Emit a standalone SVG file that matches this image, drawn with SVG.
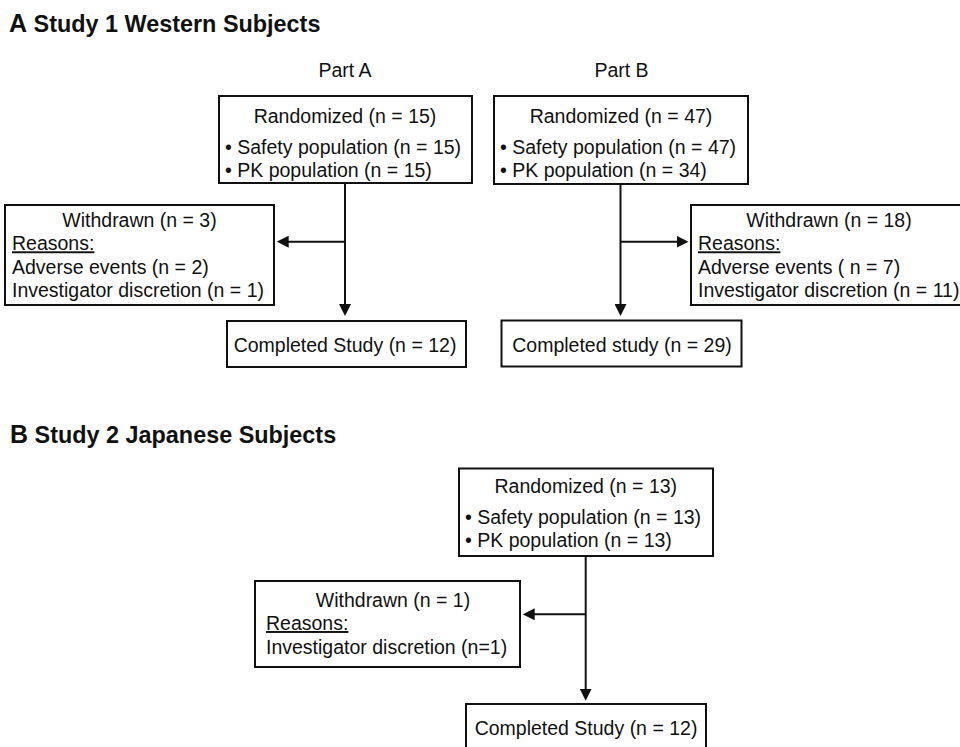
<svg xmlns="http://www.w3.org/2000/svg" width="960" height="747" viewBox="0 0 960 747">
<style>
text{font-family:"Liberation Sans",Arial,Helvetica,sans-serif;fill:#111;font-size:19.5px}
.title{font-weight:bold;font-size:23.4px}
.big{font-size:25px}
.c{text-anchor:middle}
.box{fill:#fff;stroke:#111;stroke-width:2}
.ln{fill:none;stroke:#111;stroke-width:2}
.u{text-decoration:underline}
</style>
<defs>
<marker id="arr" markerUnits="userSpaceOnUse" markerWidth="12" markerHeight="12" refX="6" refY="6" orient="auto">
<path d="M0,0 L12,6 L0,12 z" fill="#111"/>
</marker>
</defs>
<rect width="960" height="747" fill="#fff"/>
<text class="title" x="9" y="31.7"><tspan class="big">A</tspan> Study 1 Western Subjects</text>
<text class="title" x="10" y="443.3"><tspan class="big">B</tspan> Study 2 Japanese Subjects</text>
<text class="c" x="345" y="76.7">Part A</text>
<text class="c" x="621.5" y="76.7">Part B</text>

<g id="connectors">
<line class="ln" x1="345" y1="183" x2="345" y2="310" marker-end="url(#arr)"/>
<line class="ln" x1="345" y1="241.7" x2="282.7" y2="241.7" marker-end="url(#arr)"/>
<line class="ln" x1="620.5" y1="184" x2="620.5" y2="310" marker-end="url(#arr)"/>
<line class="ln" x1="620.5" y1="241.7" x2="682.5" y2="241.7" marker-end="url(#arr)"/>
<line class="ln" x1="585.7" y1="556" x2="585.7" y2="694.7" marker-end="url(#arr)"/>
<line class="ln" x1="585.7" y1="614.3" x2="528.7" y2="614.3" marker-end="url(#arr)"/>
</g>

<g id="randA">
<rect class="box" x="219" y="96" width="253" height="87"/>
<text class="c" x="345" y="123">Randomized (n = 15)</text>
<text x="225" y="154">• Safety population (n = 15)</text>
<text x="225" y="177">• PK population (n = 15)</text>
</g>
<g id="randB">
<rect class="box" x="494" y="96" width="254" height="88"/>
<text class="c" x="621" y="123">Randomized (n = 47)</text>
<text x="500" y="154">• Safety population (n = 47)</text>
<text x="500" y="177">• PK population (n = 34)</text>
</g>
<g id="withA">
<rect class="box" x="5" y="205" width="269" height="100"/>
<text class="c" x="139.5" y="226.7">Withdrawn (n = 3)</text>
<text class="u" x="12" y="250.3">Reasons:</text>
<text x="12" y="274">Adverse events (n = 2)</text>
<text x="12" y="297.3">Investigator discretion (n = 1)</text>
</g>
<g id="withB">
<rect class="box" x="691" y="205" width="276" height="100"/>
<text class="c" x="829" y="226.7">Withdrawn (n = 18)</text>
<text class="u" x="698" y="250.3">Reasons:</text>
<text x="698" y="274">Adverse events ( n = 7)</text>
<text x="698" y="297.3">Investigator discretion (n = 11)</text>
</g>
<g id="compA">
<rect class="box" x="227" y="321" width="239" height="46"/>
<text class="c" x="345" y="351.7">Completed Study (n = 12)</text>
</g>
<g id="compB">
<rect class="box" x="501.5" y="320.5" width="240" height="46"/>
<text class="c" x="622" y="351.7">Completed study (n = 29)</text>
</g>
<g id="randC">
<rect class="box" x="459" y="468.5" width="254" height="87.5"/>
<text class="c" x="585.8" y="493">Randomized (n = 13)</text>
<text x="465" y="523.5">• Safety population (n = 13)</text>
<text x="465" y="547">• PK population (n = 13)</text>
</g>
<g id="withC">
<rect class="box" x="255" y="581" width="265" height="86"/>
<text class="c" x="393" y="607.3">Withdrawn (n = 1)</text>
<text class="u" x="266" y="630">Reasons:</text>
<text x="266" y="654">Investigator discretion (n=1)</text>
</g>
<g id="compC">
<rect class="box" x="466" y="704" width="240" height="50"/>
<text class="c" x="586" y="735">Completed Study (n = 12)</text>
</g>
</svg>
